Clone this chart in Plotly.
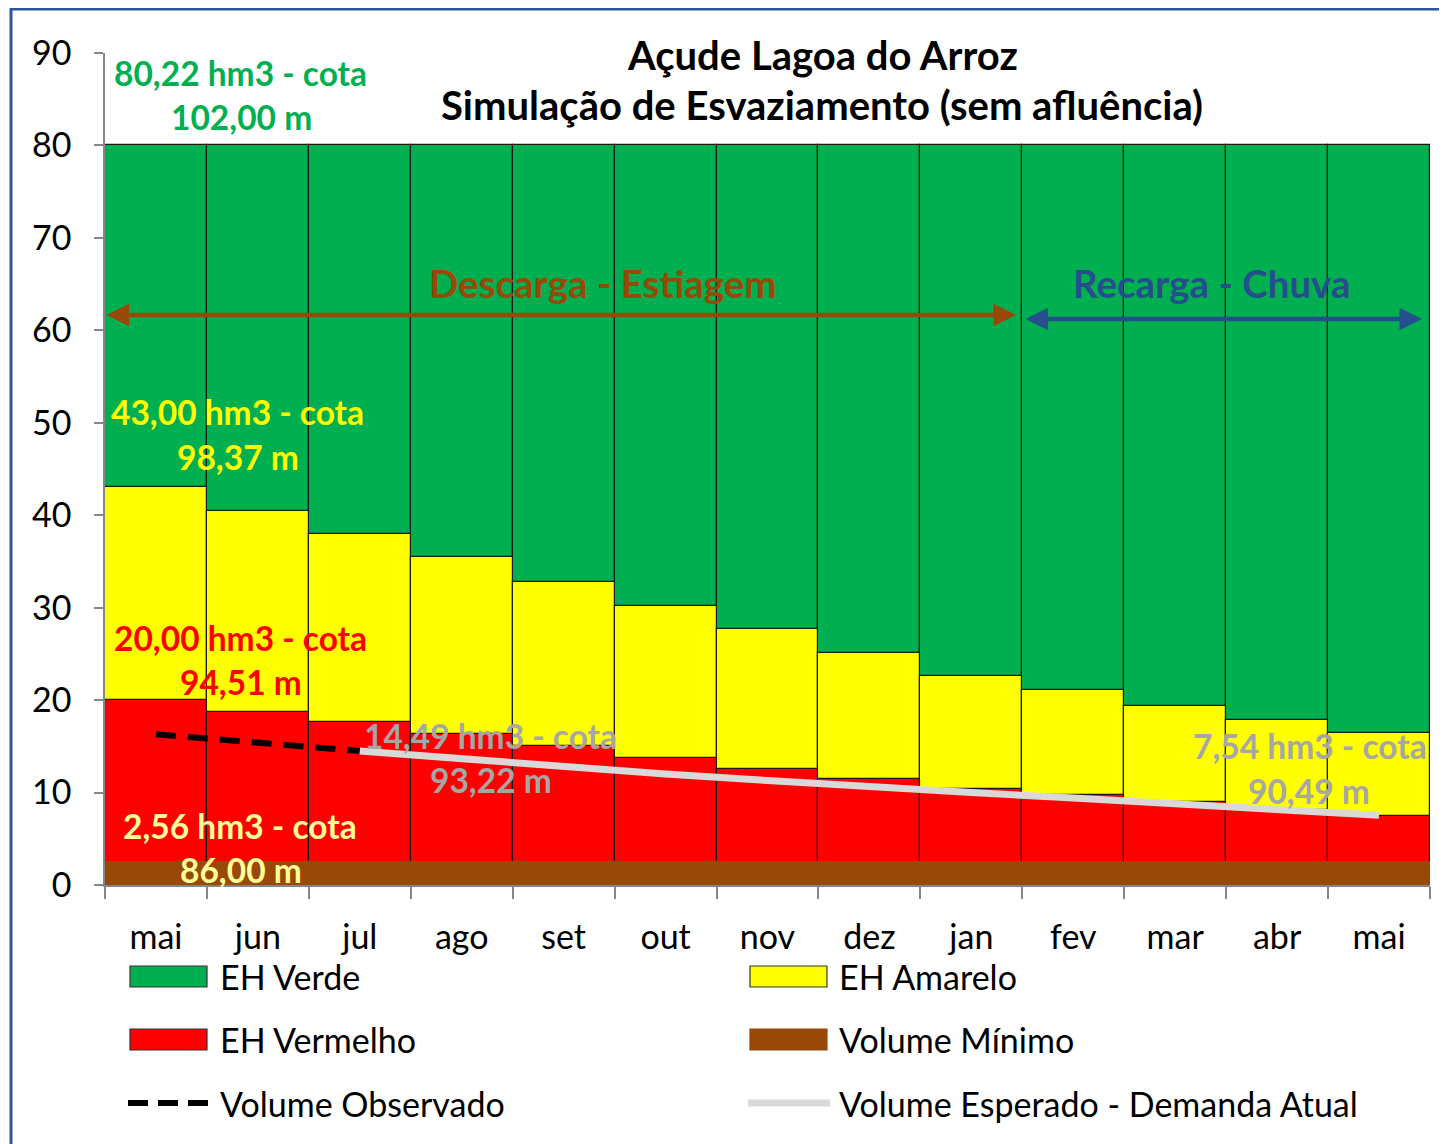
import plotly.graph_objects as go

# ---------------- data ----------------
months = ["mai", "jun", "jul", "ago", "set", "out", "nov", "dez", "jan", "fev", "mar", "abr", "mai"]
eh_verde_top = [80, 80, 80, 80, 80, 80, 80, 80, 80, 80, 80, 80, 80]
eh_amarelo_top = [43.0, 40.5, 38.0, 35.5, 32.8, 30.2, 27.7, 25.1, 22.6, 21.1, 19.4, 17.9, 16.4]
eh_vermelho_top = [20.0, 18.7, 17.6, 16.3, 15.0, 13.7, 12.6, 11.5, 10.4, 9.7, 9.0, 8.1, 7.5]
volume_minimo = [2.56] * 13
obs_idx = [0, 1, 2]
volume_observado = [16.3, 15.4, 14.49]
esp_idx = [2, 3, 4, 5, 6, 7, 8, 9, 10, 11, 12]
volume_esperado = [14.49, 13.6, 12.8, 12.0, 11.3, 10.6, 10.0, 9.4, 8.8, 8.1, 7.54]
y_ticks = [0, 10, 20, 30, 40, 50, 60, 70, 80, 90]

x = list(range(len(months)))

FONT = "Lato"
GREEN = "#00B050"
YELLOW = "#FFFF00"
RED = "#FF0000"
BROWN = "#984807"
GRAY_LINE = "#D9D9D9"
GRAY_TXT = "#A6A6A6"
BLUE = "#254E8C"

fig = go.Figure()
for name, vals, col, lw in [
    ("EH Verde", eh_verde_top, GREEN, 1.2),
    ("EH Amarelo", eh_amarelo_top, YELLOW, 1.2),
    ("EH Vermelho", eh_vermelho_top, RED, 1.2),
    ("Volume Mínimo", volume_minimo, BROWN, 0),
]:
    fig.add_trace(go.Bar(x=x, y=vals, name=name, width=1.0,
                         marker=dict(color=col, line=dict(color="#1a1a1a", width=lw)),
                         showlegend=False))

fig.add_trace(go.Scatter(x=obs_idx, y=volume_observado, mode="lines", name="Volume Observado",
                         line=dict(color="black", width=6, dash="20px,12px"), showlegend=False))
fig.add_trace(go.Scatter(x=esp_idx, y=volume_esperado, mode="lines",
                         name="Volume Esperado - Demanda Atual",
                         line=dict(color=GRAY_LINE, width=7), showlegend=False))

# ---------------- pixel helpers (layout only; page coords, body offset 8px) ----------------
OFF = 8
L, R, T, B = 105, 1430, 53, 885      # plot area in page pixels
W, H = 1447, 1144


def px_x(p):
    return (p - L) / (R - L)


def px_y(p):
    return (B - p) / (B - T)


def dx(p):
    return (p - L) / ((R - L) / 13) - 0.5


def dy(p):
    return (B - p) / ((B - T) / 90)


ann = []


def label(text, cx, cy, color, size=33.5, bold=True):
    ann.append(dict(x=dx(cx), y=dy(cy), xref="x", yref="y", text=f"<b>{text}</b>" if bold else text,
                    showarrow=False, xanchor="center", yanchor="middle",
                    font=dict(family=FONT, size=size, color=color)))


label("80,22 hm3 - cota", 240, 73, GREEN)
label("102,00 m", 241, 117, GREEN)
label("Açude Lagoa do Arroz", 822, 55, "black", 40)
label("Simulação de Esvaziamento (sem afluência)", 822, 105, "black", 40)
label("Descarga - Estiagem", 603, 283, BROWN, 38.5)
label("Recarga - Chuva", 1212, 283, BLUE, 38.5)
label("43,00 hm3 - cota", 237, 412, YELLOW)
label("98,37 m", 238, 457, YELLOW)
label("20,00 hm3 - cota", 240, 638, RED)
label("94,51 m", 241, 682, RED)
label("14,49 hm3 - cota", 490, 736, GRAY_TXT)
label("93,22 m", 491, 780, GRAY_TXT)
label("7,54 hm3 - cota", 1310, 746, GRAY_TXT)
label("90,49 m", 1309, 791, GRAY_TXT)
label("2,56 hm3 - cota", 240, 826, "#FFFF99")
label("86,00 m", 241, 870, "#FFFF99")

# double arrows
for x0, x1, yp, col in [(105, 1016, 315, BROWN), (1024, 1422, 319, BLUE)]:
    ann.append(dict(x=dx(x1), y=dy(yp), ax=dx(x0), ay=dy(yp), xref="x", yref="y", axref="x", ayref="y",
                    text="", showarrow=True, arrowhead=2, arrowside="end+start", arrowsize=1.0,
                    arrowwidth=4.5, arrowcolor=col, standoff=0, startstandoff=0))

# manual legend
shapes = []
leg_items = [
    ("EH Verde", "rect", GREEN, 130, 218, 976),
    ("EH Amarelo", "rect", YELLOW, 750, 837, 976),
    ("EH Vermelho", "rect", RED, 130, 218, 1039),
    ("Volume Mínimo", "rect", BROWN, 750, 837, 1039),
    ("Volume Observado", "dash", "black", 128, 218, 1103),
    ("Volume Esperado - Demanda Atual", "line", GRAY_LINE, 748, 837, 1103),
]
for text, kind, col, sx, tx, ry in leg_items:
    if kind == "rect":
        shapes.append(dict(type="rect", xref="paper", yref="paper",
                           x0=px_x(sx), x1=px_x(sx + 77), y0=px_y(ry - 10), y1=px_y(ry + 11),
                           fillcolor=col, line=dict(color="#333333" if col != BROWN else BROWN, width=1.2)))
    elif kind == "dash":
        shapes.append(dict(type="line", xref="paper", yref="paper",
                           x0=px_x(sx), x1=px_x(sx + 84), y0=px_y(ry), y1=px_y(ry),
                           line=dict(color=col, width=6, dash="20px,10px")))
    else:
        shapes.append(dict(type="line", xref="paper", yref="paper",
                           x0=px_x(sx), x1=px_x(sx + 82), y0=px_y(ry), y1=px_y(ry),
                           line=dict(color=col, width=7)))
    ann.append(dict(x=px_x(tx), y=px_y(ry), xref="paper", yref="paper", text=text, showarrow=False,
                    xanchor="left", yanchor="middle", font=dict(family=FONT, size=34, color="black")))

# outer frame (picture border)
shapes.append(dict(type="rect", xref="paper", yref="paper",
                   x0=px_x(11), x1=px_x(W + 30), y0=px_y(H + 30), y1=px_y(9),
                   line=dict(color="#2F5597", width=3), fillcolor="rgba(0,0,0,0)", layer="below"))

fig.update_layout(
    width=W, height=H,
    margin=dict(l=L - OFF, r=W + OFF - R, t=T - OFF, b=H + OFF - B),
    barmode="overlay", bargap=0,
    paper_bgcolor="white", plot_bgcolor="white",
    font=dict(family=FONT, size=34, color="black"),
    showlegend=False,
    annotations=ann, shapes=shapes,
)
fig.update_xaxes(range=[-0.5, 12.5], tickvals=x, ticktext=months, ticks="", showgrid=False,
                 showline=True, linecolor="#868686", linewidth=1.5, zeroline=False,
                 ticklabelstandoff=21, tickfont=dict(family=FONT, size=34),
                 minor=dict(tick0=-0.5, dtick=1, ticks="outside", ticklen=12, tickcolor="#868686",
                            tickwidth=1.5, showgrid=False))
fig.update_yaxes(range=[0, 90], tickvals=y_ticks, ticks="outside", ticklen=9, tickcolor="#868686",
                 tickwidth=1.5, showgrid=False, showline=True, linecolor="#868686", linewidth=1.5,
                 zeroline=False, ticklabelstandoff=16, tickfont=dict(family=FONT, size=34))

fig.write_html("out.html")
